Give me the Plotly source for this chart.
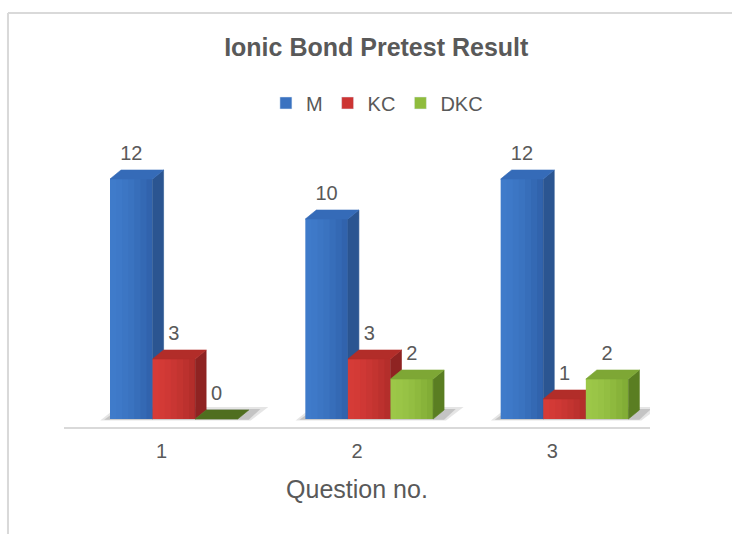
import plotly.graph_objects as go

# ---- data ----
categories = [1, 2, 3]
tick_labels = ["1", "2", "3"]
series_names = ["M", "KC", "DKC"]
m_values = [12, 10, 12]
kc_values = [3, 3, 1]
dkc_values = [0, 2, 2]

series_values = [m_values, kc_values, dkc_values]

# ---- styles ----
FONT = "Liberation Sans, Arial, sans-serif"
TXT = "#595959"
front_light = ["#3f7bca", "#d53b37", "#9cc748"]
front_dark = ["#3163ad", "#b42e2b", "#82ad36"]
legend_col = ["#3a72c0", "#cc3433", "#8fbc3d"]
side_col = ["#2b5591", "#8f2322", "#5a7e22"]
top_col = ["#356bb8", "#b22d29", "#7ea735"]
flat_col = ["#2b5591", "#8f2322", "#4f6e1f"]

OFF0 = -0.2645   # left edge of first bar relative to category
W = 0.218        # bar width (x units)
DX = 0.0563      # depth offset x
DY = 0.45        # depth offset y
NSTRIP = 7
OVL = 0.006


def mix(c1, c2, t):
    a = [int(c1[i:i + 2], 16) for i in (1, 3, 5)]
    b = [int(c2[i:i + 2], 16) for i in (1, 3, 5)]
    return "#" + "".join(f"{round(a[k] + (b[k] - a[k]) * t):02x}" for k in range(3))


def poly(xs, ys, color, lw=0.6):
    return go.Scatter(
        x=xs + [xs[0]], y=ys + [ys[0]], mode="lines", fill="toself",
        fillcolor=color, line=dict(width=lw, color=color),
        hoverinfo="skip", showlegend=False,
    )


fig = go.Figure()

# floor shadows
for c in categories:
    xl = c + OFF0
    xr = xl + 3 * W
    fig.add_trace(poly([xl - 0.05, xr + DX + 0.01, xr + DX + 0.10, xl + DX - 0.02],
                       [-0.08, -0.08, DY + 0.15, DY + 0.15], "rgba(0,0,0,0.10)", 0))
    fig.add_trace(poly([xl - 0.03, xr + DX, xr + DX + 0.06, xl + DX - 0.01],
                       [-0.04, -0.04, DY + 0.05, DY + 0.05], "rgba(0,0,0,0.14)", 0))

# bars (front gradient strips, side, top)
for gi, c in enumerate(categories):
    for j in range(len(series_names)):
        v = series_values[j][gi]
        xl = c + OFF0 + j * W
        xr = xl + W
        if v > 0:
            for s in range(NSTRIP):
                a = xl + W * s / NSTRIP
                b = min(xr, xl + W * (s + 1) / NSTRIP + OVL)
                t = s / (NSTRIP - 1)
                col = mix(front_light[j], front_dark[j], t ** 1.5)
                fig.add_trace(poly([a, b, b, a], [0, 0, v, v], col, 0))
            fig.add_trace(poly([xr, xr + DX, xr + DX, xr], [0, DY, v + DY, v], side_col[j]))
            fig.add_trace(poly([xl, xr, xr + DX, xl + DX], [v, v, v + DY, v + DY], top_col[j]))
        else:
            fig.add_trace(poly([xl, xr, xr + DX, xl + DX], [v, v, v + DY, v + DY], flat_col[j]))

# data labels
for j in range(len(series_names)):
    xs = [c + OFF0 + j * W + W / 2 for c in categories]
    ys = [v + DY + 0.25 for v in series_values[j]]
    fig.add_trace(go.Scatter(
        x=xs, y=ys, mode="text", text=[str(v) for v in series_values[j]],
        textposition="top center", textfont=dict(size=20, color=TXT, family=FONT),
        hoverinfo="skip", showlegend=False, cliponaxis=False,
    ))

# legend entries
for j, name in enumerate(series_names):
    fig.add_trace(go.Bar(x=[None], y=[None], name=name, marker_color=legend_col[j]))

fig.update_layout(
    width=732, height=534,
    margin=dict(l=64, r=82, t=130, b=107),
    paper_bgcolor="white", plot_bgcolor="white",
    font=dict(family=FONT, color=TXT),
    title=dict(text="<b>Ionic Bond Pretest Result</b>", x=0.514, xref="container",
               xanchor="center", y=0.912, yref="container", yanchor="middle",
               font=dict(size=25, color=TXT, family=FONT)),
    legend=dict(orientation="h", x=0.534, xanchor="center", y=1.091, yanchor="middle",
                font=dict(size=20, color=TXT, family=FONT), traceorder="normal",
                itemwidth=30),
    showlegend=True,
    xaxis=dict(range=[0.5, 3.5], tickvals=categories, ticktext=tick_labels,
               showline=True, linecolor="#d9d9d9", linewidth=2, showgrid=False,
               zeroline=False, ticks="", ticklabelstandoff=5,
               tickfont=dict(size=20, color=TXT, family=FONT),
               title=dict(text="Question no.", font=dict(size=25, color=TXT, family=FONT),
                          standoff=19),
               automargin=False, fixedrange=True),
    yaxis=dict(range=[-0.4, 14.45], visible=False, fixedrange=True),
    shapes=[
        dict(type="line", xref="paper", yref="paper", x0=-0.0956, x1=-0.0956,
             y0=1.394, y1=-0.37, line=dict(color="#d9d9d9", width=2)),
        dict(type="line", xref="paper", yref="paper", x0=-0.0956, x1=1.15,
             y0=1.394, y1=1.394, line=dict(color="#d9d9d9", width=2)),
    ],
)

fig.write_html("out.html", config={"displayModeBar": False},
               post_script="document.body.style.margin='0';")
